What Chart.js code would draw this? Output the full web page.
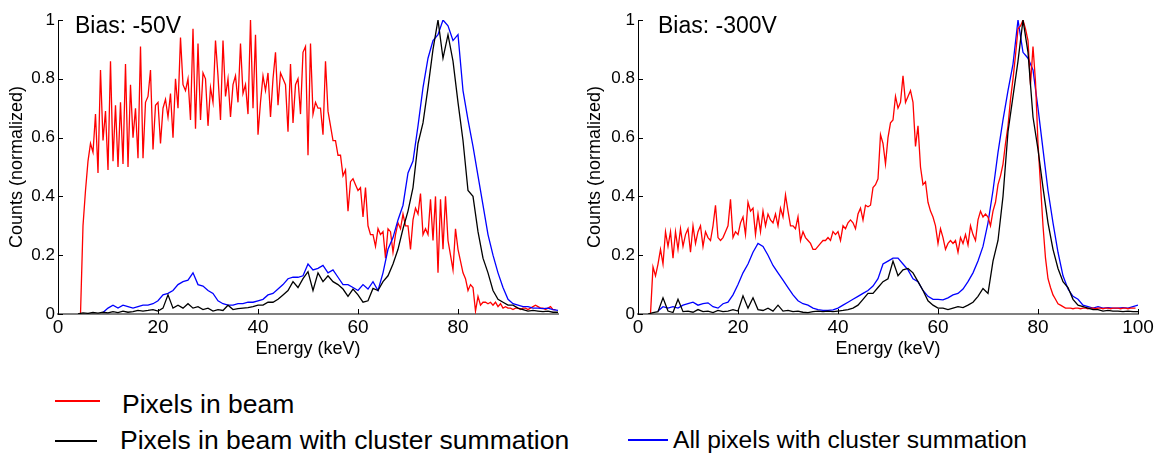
<!DOCTYPE html>
<html>
<head>
<meta charset="utf-8">
<script src="https://cdn.jsdelivr.net/npm/chart.js@4"></script>
<style>
  body { margin: 0; background: #fff; width: 1156px; height: 456px; position: relative; overflow: hidden;
         font-family: "Liberation Sans", Arial, sans-serif; }
  canvas.panel { position: absolute; top: 0; }
  #left { left: 0; }
  #right { left: 578px; }
  .key { position: absolute; height: 2px; }
  .lab { position: absolute; font-size: 26.5px; line-height: 30px; white-space: nowrap; color: #000; }
</style>
</head>
<body>
<canvas id="left" class="panel" width="578" height="360"></canvas>
<canvas id="right" class="panel" width="578" height="360"></canvas>

<div class="key" style="left:55px;top:400px;width:45px;background:#ff0000"></div>
<div class="lab" style="left:122px;top:389px">Pixels in beam</div>
<div class="key" style="left:55px;top:440px;width:42px;background:#000"></div>
<div class="lab" style="left:120px;top:425px">Pixels in beam with cluster summation</div>
<div class="key" style="left:628px;top:439px;width:40px;background:#0000ff"></div>
<div class="lab" style="left:673px;top:425px;font-size:24.6px">All pixels with cluster summation</div>

<script>
// energy bins (keV): first bin and bin width for each series
const FINE = 0.5;
const COARSE = 1;

// ---- Bias -50V ----
const redLeftStart = 4.5;
const redLeft = [
  0, .30, .42, .52, .58, .55, .68, .48, .83, .59, .69, .49, .86, .52, .71, .50, .72, .51, .85, .50,
  .78, .60, .70, .53, .91, .53, .72, .74, .83, .56, .71, .72, .58, .70, .73, .67, .75, .60, .80, .70,
  .94, .78, .76, .80, .66, .97, .63, .92, .66, .82, .80, .64, .77, .72, .93, .81, .66, .93, .74, .80,
  .67, .78, .81, .72, .92, .75, .78, .68, 1.0, .70, .95, .61, .72, .81, .76, .82, .67, .80, .89, .71,
  .82, .80, .78, .62, .85, .65, .78, .80, .68, .89, .91, .54, .92, .68, .72, .70, .70, .61, .86, .69,
  .64, .59, .59, .54, .54, .47, .49, .35, .45, .46, .44, .42, .43, .33, .43, .30, .27, .27, .23, .29,
  .27, .28, .19, .29, .28, .21, .27, .31, .29, .34, .30, .30, .22, .32, .36, .34, .41, .27, .29, .27,
  .39, .25, .40, .14, .39, .22, .40, .25, .20, .15, .29, .22, .18, .14, .12, .08, .10, .09, .01, .06,
  .03, .04, .04, .035, .04, .03, .04, .025, .035, .02, .025, .02, .02, .015, .02, .02, .015, .02, .02, .015,
  .02, .025, .03, .025, .02, .02, .015, .02, .025, .015, .015
];

const blackLeftStart = 4;
const blackLeft = [
  0, .004, .002, .005, .003, .006, .004, .008, .005, .01, .006, .008, .012, .01, .012, .015, .01, .02, .065, .02,
  .03, .02, .035, .02, .025, .015, .02, .01, .015, .012, .03, .015, .018, .02, .022, .025, .03, .03, .04, .04,
  .05, .065, .08, .11, .09, .12, .144, .08, .14, .11, .13, .11, .10, .085, .06, .085, .065, .04, .045, .087,
  .08, .11, .13, .17, .22, .29, .35, .43, .58, .65, .77, .90, 1.0, .87, .95, .86, .72, .59, .42, .40,
  .28, .19, .14, .08, .05, .04, .03, .03, .02, .015, .01, .012, .01, .008, .01, .006, .006
];

const blueLeftStart = 9;
const blueLeft = [
  .005, .02, .03, .02, .03, .025, .02, .025, .03, .03, .035, .045, .065, .07, .08, .10, .11, .115, .14, .10,
  .095, .08, .07, .045, .035, .03, .03, .035, .035, .04, .04, .045, .05, .065, .07, .085, .10, .12, .125, .125,
  .13, .17, .15, .155, .165, .14, .15, .125, .10, .10, .09, .08, .10, .085, .11, .08, .14, .22, .26, .32,
  .37, .48, .52, .64, .77, .87, .93, .95, 1.0, .98, .93, .95, .76, .66, .57, .47, .37, .27, .20, .14,
  .09, .05, .035, .03, .025, .025, .02, .02, .018, .02, .015, .012
];

// ---- Bias -300V ----
const redRightStart = 2.5;
const redRight = [
  0, .16, .13, .17, .22, .17, .28, .23, .28, .19, .28, .22, .29, .23, .27, .29, .21, .30, .24, .28,
  .30, .23, .28, .26, .25, .30, .37, .26, .25, .26, .28, .30, .39, .26, .28, .27, .31, .33, .27, .38,
  .35, .36, .27, .34, .28, .35, .30, .34, .32, .31, .34, .30, .36, .33, .405, .35, .30, .30, .29, .33,
  .25, .28, .26, .25, .24, .22, .22, .23, .24, .25, .25, .26, .25, .28, .27, .28, .25, .30, .29, .31,
  .32, .31, .29, .34, .36, .32, .37, .365, .37, .43, .44, .46, .61, .58, .51, .60, .65, .66, .74, .70,
  .72, .81, .72, .74, .76, .72, .57, .64, .50, .44, .45, .38, .35, .33, .30, .24, .29, .26, .22, .24,
  .25, .24, .25, .21, .26, .24, .27, .235, .30, .27, .25, .32, .35, .33, .34, .33, .30, .35, .38, .44,
  .47, .51, .58, .64, .73, .80, .88, .97, .98, 1.0, .97, .93, .78, .91, .79, .58, .44, .30, .19, .12,
  .09, .065, .05, .035, .03, .025, .02, .02, .02, .018, .02, .02, .018, .02, .02, .018, .02, .02, .018, .02,
  .02, .018, .02, .02, .018, .02, .02, .02, .018, .02, .02, .018, .02, .02, .02
];

const blackRightStart = 2;
const blackRight = [
  0, .005, .008, .055, .01, .005, .05, .008, .01, .006, .015, .008, .01, .005, .012, .008, .01, .015, .01, .062,
  .02, .055, .015, .012, .02, .01, .03, .01, .012, .008, .01, .006, .005, .008, .01, .008, .01, .008, .01, .012,
  .015, .02, .03, .05, .07, .07, .09, .11, .12, .18, .13, .15, .155, .14, .11, .08, .045, .03, .02, .02,
  .015, .02, .025, .022, .03, .04, .06, .087, .07, .18, .25, .40, .62, .74, .86, 1.0, .89, .67, .56, .43,
  .31, .22, .155, .11, .09, .05, .03, .025, .02, .015, .015, .01, .012, .01, .01, .008, .01, .008, .008
];

const blueRightStart = 4;
const blueRight = [
  .01, .025, .02, .025, .02, .03, .035, .04, .03, .035, .038, .025, .02, .035, .04, .065, .10, .14, .17, .21,
  .24, .23, .20, .165, .14, .115, .09, .065, .045, .035, .03, .02, .015, .012, .012, .014, .02, .03, .04, .05,
  .06, .07, .08, .095, .12, .17, .18, .19, .19, .17, .15, .12, .11, .08, .06, .05, .05, .048, .055, .065,
  .07, .085, .11, .14, .18, .23, .31, .42, .55, .66, .76, .85, 1.0, .89, .87, .83, .70, .56, .42, .31,
  .21, .13, .085, .06, .05, .03, .025, .02, .025, .02, .022, .02, .02, .022, .02, .025, .03
];

const xTicks = [0, 20, 40, 60, 80, 100];
const yTicks = [0, 0.2, 0.4, 0.6, 0.8, 1];

const RED = '#ff0000';
const BLACK = '#000000';
const BLUE = '#0000ff';
const FONT = '"Liberation Sans", Arial, sans-serif';

function points(start, step, values) {
  return values.map((v, i) => ({ x: start + i * step, y: v }));
}

function line(data, color) {
  return { data, borderColor: color, borderWidth: 1.3, pointRadius: 0, tension: 0, fill: false };
}

// matlab style tick marks pointing into the plot
const innerTicks = {
  id: 'innerTicks',
  afterDatasetsDraw(chart) {
    const { ctx, chartArea, scales: { x, y } } = chart;
    ctx.save();
    ctx.strokeStyle = '#000';
    ctx.lineWidth = 1;
    x.ticks.forEach(t => {
      if (t.label === null || t.label === undefined || t.label === '') return;
      const px = Math.round(x.getPixelForValue(t.value)) + 0.5;
      ctx.beginPath();
      ctx.moveTo(px, chartArea.bottom);
      ctx.lineTo(px, chartArea.bottom - 5);
      ctx.stroke();
    });
    y.ticks.forEach(t => {
      const py = Math.round(y.getPixelForValue(t.value)) + 0.5;
      ctx.beginPath();
      ctx.moveTo(chartArea.left, py);
      ctx.lineTo(chartArea.left + 5, py);
      ctx.stroke();
    });
    ctx.restore();
  }
};

const biasLabel = {
  id: 'biasLabel',
  afterDraw(chart, args, opts) {
    const { ctx, chartArea } = chart;
    ctx.save();
    ctx.font = '23px ' + FONT;
    ctx.fillStyle = '#000';
    ctx.textBaseline = 'alphabetic';
    ctx.fillText(opts.text, chartArea.left + opts.dx, chartArea.top + 13);
    ctx.restore();
  }
};

function makeChart(id, bias, dx, yWidth, padRight, hideLast, datasets) {
  return new Chart(document.getElementById(id), {
    type: 'line',
    data: { datasets },
    plugins: [innerTicks, biasLabel],
    options: {
      responsive: false,
      animation: false,
      devicePixelRatio: 1,
      layout: { padding: { left: 0, top: 20, right: padRight, bottom: 0 } },
      plugins: {
        legend: { display: false },
        tooltip: { enabled: false },
        biasLabel: { text: bias, dx }
      },
      scales: {
        x: {
          type: 'linear',
          min: 0,
          max: 100,
          afterBuildTicks: s => { s.ticks = xTicks.map(v => ({ value: v })); },
          afterFit: s => { s.height = 46; },
          ticks: {
            color: '#000',
            font: { family: FONT, size: 19 },
            padding: 2,
            maxRotation: 0,
            callback: v => (hideLast && v === 100) ? null : v
          },
          grid: { display: false, drawTicks: false, tickLength: 0 },
          border: { display: true, color: '#808080', width: 2 },
          title: { display: true, text: 'Energy (keV)', color: '#000',
                   font: { family: FONT, size: 18 }, padding: 0 }
        },
        y: {
          min: 0,
          max: 1,
          afterBuildTicks: s => { s.ticks = yTicks.map(v => ({ value: v })); },
          afterFit: s => { s.width = yWidth; },
          ticks: {
            color: '#000',
            font: { family: FONT, size: 17 },
            padding: 3,
            callback: v => String(v)
          },
          grid: { display: false, drawTicks: false, tickLength: 0 },
          border: { display: true, color: '#000', width: 1 },
          title: { display: true, text: 'Counts (normalized)', color: '#000',
                   font: { family: FONT, size: 18 }, padding: { top: 6 } }
        }
      }
    }
  });
}

makeChart('left', 'Bias: -50V', 17, 58, 20, true, [
  line(points(blackLeftStart, COARSE, blackLeft), BLACK),
  line(points(blueLeftStart, COARSE, blueLeft), BLUE),
  line(points(redLeftStart, FINE, redLeft), RED)
]);

makeChart('right', 'Bias: -300V', 20, 60, 18, false, [
  line(points(blackRightStart, COARSE, blackRight), BLACK),
  line(points(redRightStart, FINE, redRight), RED),
  line(points(blueRightStart, COARSE, blueRight), BLUE)
]);
</script>
</body>
</html>
